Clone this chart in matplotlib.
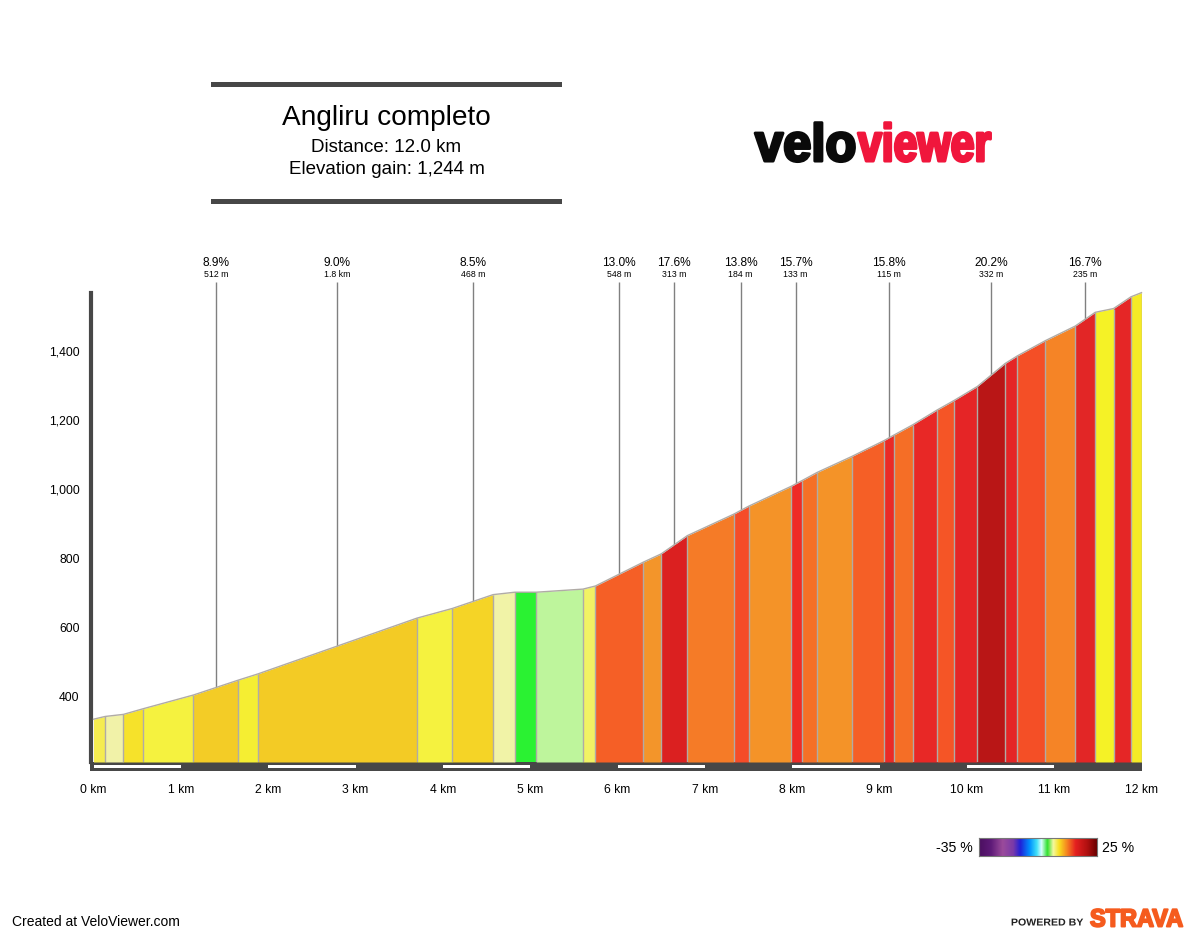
import matplotlib
matplotlib.use("Agg")
import matplotlib.pyplot as plt
import matplotlib.patheffects as pe
from matplotlib.colors import LinearSegmentedColormap
from matplotlib.transforms import Affine2D
import numpy as np

plt.rcParams['font.family'] = ['Liberation Sans', 'DejaVu Sans']

# segment boundaries (km) and elevation at each boundary (m)
dist_km = [0, .134, .343, .564, 1.143, 1.655, 1.88, 3.705, 4.11, 4.576, 4.825, 5.069, 5.605, 5.747,
           6.295, 6.50, 6.80, 7.33, 7.50, 7.99, 8.11, 8.285, 8.68, 9.05, 9.17, 9.38, 9.66, 9.85,
           10.12, 10.44, 10.58, 10.90, 11.24, 11.47, 11.68, 11.88, 12.0]
elev_m = [333, 341, 347, 363, 403, 446, 464, 626, 654, 694, 701, 701, 710, 719,
          788, 812, 865, 927, 950, 1008, 1024, 1048, 1094, 1140, 1157, 1186, 1229, 1256,
          1297, 1364, 1386, 1430, 1472, 1512, 1523, 1557, 1569]
seg_colors = ['#F5EC50', '#F1F2A8', '#F6E22A', '#F5F23F', '#F3CC26', '#F5EE32', '#F3CB25',
              '#F5F23F', '#F5D426', '#F1F3A7', '#2AF232', '#BEF59C', '#F1F264',
              '#F55F26', '#F3952A', '#DB2020', '#F57B27', '#F54C28', '#F49328', '#EE2A26',
              '#F57026', '#F49328', '#F55F26', '#EA2A26', '#F56E26', '#E82826', '#F55526',
              '#E52526', '#B91616', '#E52526', '#F44F26', '#F58426', '#E22626', '#F5F226',
              '#E52626', '#F5EA26']

# climb annotations
climb_km = [1.40, 2.79, 4.345, 6.015, 6.645, 7.41, 8.04, 9.106, 10.275, 11.35]
climb_pct = ['8.9%', '9.0%', '8.5%', '13.0%', '17.6%', '13.8%', '15.7%', '15.8%', '20.2%', '16.7%']
climb_len = ['512 m', '1.8 km', '468 m', '548 m', '313 m', '184 m', '133 m', '115 m', '332 m', '235 m']

y_ticks = [400, 600, 800, 1000, 1200, 1400]
x_ticks = list(range(13))

bar_cols = ['#4B0F60', '#5E1A78', '#9B4B9B', '#7A3AA8', '#2020D8', '#0090FF', '#40E0F8', '#D8FFFF',
            '#30E030', '#F4F8A0', '#F8E020', '#F58020', '#E52020', '#B01010', '#6A0000']
bar_pos = [0, .1, .2, .29, .35, .43, .49, .53, .58, .63, .68, .75, .82, .92, 1]

W, H = 1200, 938
DARK = '#474747'
EDGE = '#B0ABA6'


class SqueezeX(pe.AbstractPathEffect):
    # narrows a text around x0 (px) and thickens it, the logos are condensed heavy faces
    def __init__(self, sx, x0, lw, color):
        super().__init__()
        self.sx, self.x0, self.lw, self.color = sx, x0, lw, color

    def draw_path(self, renderer, gc, tpath, affine, rgbFace=None):
        tr = affine + Affine2D().translate(-self.x0, 0).scale(self.sx, 1).translate(self.x0, 0)
        gc0 = renderer.new_gc()
        gc0.copy_properties(gc)
        gc0.set_linewidth(self.lw)
        gc0.set_foreground(self.color)
        renderer.draw_path(gc0, tpath, tr, rgbFace)
        gc0.restore()


def axpos(x0, y0, x1, y1):
    # pixel box (top-left origin) to figure fractions
    return [x0 / W, 1 - y1 / H, (x1 - x0) / W, (y1 - y0) / H]


fig = plt.figure(figsize=(W / 100, H / 100), dpi=100, facecolor='white')

bg = fig.add_axes([0, 0, 1, 1])
bg.set_xlim(0, W)
bg.set_ylim(H, 0)
bg.axis('off')

ax = fig.add_axes(axpos(93.5, 293, 1141.5, 762))
ax.patch.set_alpha(0)
ax.set_xlim(0, 12)
ax.set_ylim(209, 1568)

for i, c in enumerate(seg_colors):
    ax.fill_between(dist_km[i:i + 2], elev_m[i:i + 2], 209, color=c, lw=0, zorder=2)
ax.plot(dist_km, elev_m, color=EDGE, lw=1, zorder=3, clip_on=False)
ax.vlines(dist_km[1:], 209, elev_m[1:], color=EDGE, lw=1, zorder=3)

top_elev = 1600
ax.vlines(climb_km, np.interp(climb_km, dist_km, elev_m), top_elev, color='#808080', lw=1, zorder=1, clip_on=False)
for k, p, l in zip(climb_km, climb_pct, climb_len):
    ax.annotate(p, (k, top_elev), xytext=(0, 13), textcoords='offset pixels', ha='center', va='bottom',
                fontsize=8.6, annotation_clip=False)
    ax.annotate(l, (k, top_elev), xytext=(0, 2.5), textcoords='offset pixels', ha='center', va='bottom',
                fontsize=6.3, annotation_clip=False)

for s in ['top', 'right', 'bottom']:
    ax.spines[s].set_visible(False)
ax.spines['left'].set_linewidth(3)
ax.spines['left'].set_color(DARK)
ax.spines['left'].set_position(('outward', 1.5))

ax.set_yticks(y_ticks)
ax.set_yticklabels([f'{v:,}' for v in y_ticks], fontsize=8.7)
ax.tick_params(axis='y', length=0, pad=8.5)
ax.set_xticks(x_ticks)
ax.set_xticklabels([f'{v} km' for v in x_ticks], fontsize=8.7)
ax.tick_params(axis='x', length=0, pad=16)

# distance band under the profile
bg.add_patch(plt.Rectangle((90, 762), 1051.5, 9, color=DARK, lw=0))
strip = fig.add_axes(axpos(93.5, 765.3, 1141.5, 768.3))
strip.set_xlim(0, 12)
strip.axis('off')
strip.broken_barh([(v, 1) for v in x_ticks[::2]], (0, 1), color='white', lw=0)
strip.set_ylim(0, 1)

# header box
bg.add_patch(plt.Rectangle((211, 82), 351, 5, color=DARK, lw=0))
bg.add_patch(plt.Rectangle((211, 199), 351, 5, color=DARK, lw=0))
bg.text(386.5, 118, 'Angliru completo', ha='center', va='center', fontsize=20.2)
bg.text(386.5, 147, 'Distance: 12.0 km', ha='center', va='center', fontsize=13.5)
bg.text(386.5, 170, 'Elevation gain: 1,244 m', ha='center', va='center', fontsize=13.5)

# logos
bg.text(755, 161, 'velo', ha='left', va='baseline', fontsize=38, weight='bold', color='#0A0A0A',
        path_effects=[SqueezeX(.96, 755, 2.2, '#0A0A0A')])
bg.text(858, 161, 'viewer', ha='left', va='baseline', fontsize=38, weight='bold', color='#F0163C',
        path_effects=[SqueezeX(.81, 858, 2.2, '#F0163C')])
bg.text(12, 921.5, 'Created at VeloViewer.com', ha='left', va='center', fontsize=10)
bg.text(1083, 922.5, 'POWERED BY', ha='right', va='center', fontsize=7.2, weight='bold', color='#222222',
        path_effects=[SqueezeX(1.06, 1083, 0, '#222222')])
bg.text(1090, 926.5, 'STRAVA', ha='left', va='baseline', fontsize=18, weight='bold', color='#F55B1E',
        path_effects=[SqueezeX(.94, 1090, 1.4, '#F55B1E')])

# grade colour bar
cax = fig.add_axes(axpos(979, 838, 1097, 856))
cmap = LinearSegmentedColormap.from_list('grade', list(zip(bar_pos, bar_cols)))
cax.imshow(np.linspace(0, 1, 256)[None, :], cmap=cmap, aspect='auto')
cax.set_xticks([])
cax.set_yticks([])
for s in cax.spines.values():
    s.set_color('#777777')
    s.set_linewidth(0.8)
bg.text(973, 848.5, '-35 %', ha='right', va='center', fontsize=10.2)
bg.text(1102, 848.5, '25 %', ha='left', va='center', fontsize=10.2)

fig.savefig('out.png', dpi=100)
